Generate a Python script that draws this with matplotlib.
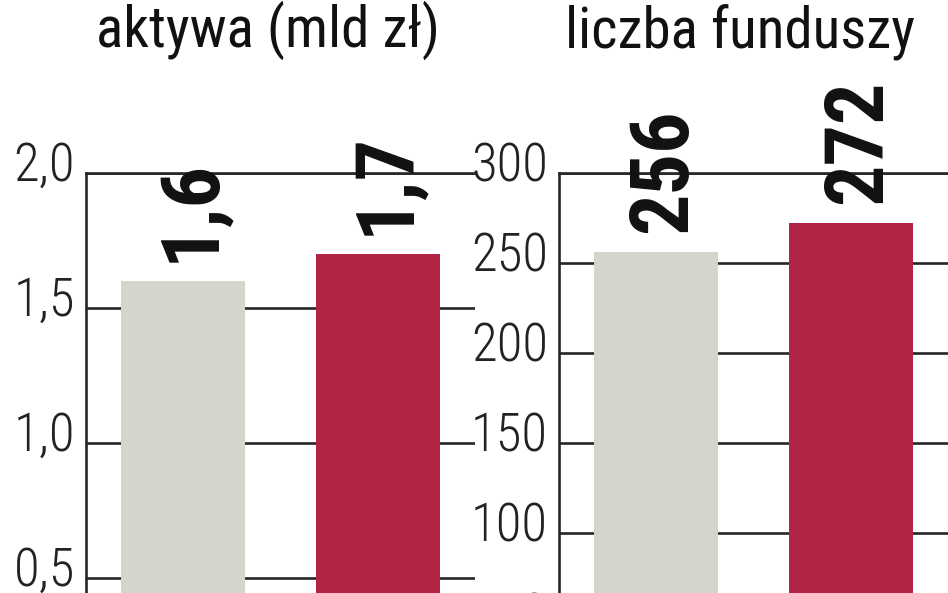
import os
import matplotlib
matplotlib.use('Agg')
import matplotlib.pyplot as plt
import matplotlib.font_manager as fm
from matplotlib.transforms import ScaledTranslation

# dane
aktywa = [1.6, 1.7]
aktywa_txt = ['1,6', '1,7']
aktywa_ticks = [0.5, 1.0, 1.5, 2.0]
aktywa_lbl = ['0,5', '1,0', '1,5', '2,0']
fundusze = [256, 272]
fundusze_txt = ['256', '272']
fundusze_ticks = [50, 100, 150, 200, 250, 300]
kolory = ['#d5d6cb', '#b02444']

# look for a narrow font file, the original uses a condensed face
files = {}
for f in fm.fontManager.ttflist:
    files[os.path.basename(f.fname)] = f.fname

def pick(wanted):
    for w in wanted:
        if w in files:
            return w, fm.FontProperties(fname=files[w])
    return 'none', fm.FontProperties(family='DejaVu Sans')

reg_name, reg = pick(['LiberationSansNarrow-Regular.ttf', 'NotoSans-Condensed.ttf',
                      'RobotoCondensed-Regular.ttf', 'OpenSans_Condensed-Regular.ttf',
                      'OpenSans-CondensedRegular.ttf', 'DejaVuSansCondensed.ttf',
                      'NotoSans-SemiCondensed.ttf'])
light_name, light = pick(['NotoSans-CondensedLight.ttf', 'RobotoCondensed-Light.ttf',
                          'OpenSans_Condensed-Light.ttf', 'OpenSans-CondensedLight.ttf',
                          'LiberationSansNarrow-Regular.ttf', 'NotoSans-Condensed.ttf',
                          'DejaVuSansCondensed.ttf'])
bold_name, bold = pick(['LiberationSansNarrow-Bold.ttf', 'NotoSans-CondensedBold.ttf',
                        'RobotoCondensed-Bold.ttf', 'OpenSans_Condensed-Bold.ttf',
                        'OpenSans-CondensedBold.ttf', 'DejaVuSansCondensed-Bold.ttf',
                        'NotoSans-SemiCondensedBold.ttf'])
if bold_name == 'none':
    bold = fm.FontProperties(family='DejaVu Sans', weight='bold')

W, H = 948, 593
fig = plt.figure(figsize=(W/100., H/100.), dpi=100)
fig.patch.set_facecolor('white')

def fp(base, size):
    p = base.copy()
    p.set_size(size)
    return p

def panel(x0, vals, txts, ticks, lbls, ymax):
    # axes goes below the bottom edge, picture is cropped like the original
    ax = fig.add_axes([x0/W, (H-173-540)/float(H), 389./W, 540./H])
    ax.bar([0, 1], vals, width=0.64, color=kolory, zorder=2)
    ax.set_xlim(-0.5, 1.5)
    ax.set_ylim(0, ymax)
    ax.set_yticks(ticks)
    ax.set_yticklabels(lbls)
    ax.set_xticks([])
    ax.yaxis.grid(True, color='#262626', lw=1.9, zorder=1)
    ax.set_axisbelow(True)
    for s in ['right', 'bottom']:
        ax.spines[s].set_visible(False)
    for s in ['left', 'top']:
        ax.spines[s].set_color('#262626')
        ax.spines[s].set_linewidth(1.9)
    ax.tick_params(axis='y', length=0, pad=8, labelcolor='#222222')
    off = ScaledTranslation(0, 0.12, fig.dpi_scale_trans)
    for t in ax.get_yticklabels():
        t.set_fontproperties(fp(light, 38))
        t.set_transform(t.get_transform() + off)
    for i in range(len(vals)):
        ax.annotate(txts[i], (i, vals[i]), xytext=(8, 19), textcoords='offset pixels',
                    rotation=90, ha='center', va='bottom', fontproperties=fp(bold, 59),
                    color='#111111', zorder=5, annotation_clip=False)
    return ax

panel(86, aktywa, aktywa_txt, aktywa_ticks, aktywa_lbl, 2.0)
panel(559, fundusze, fundusze_txt, fundusze_ticks, [str(v) for v in fundusze_ticks], 300)

fig.text(267.5/W, 1-47./H, 'aktywa (mld zł)', ha='center', va='baseline',
         fontproperties=fp(reg, 41), color='#111111')
fig.text(740./W, 1-47./H, 'liczba funduszy', ha='center', va='baseline',
         fontproperties=fp(reg, 41), color='#111111')

fig.savefig('out.png', dpi=100, facecolor='white')
